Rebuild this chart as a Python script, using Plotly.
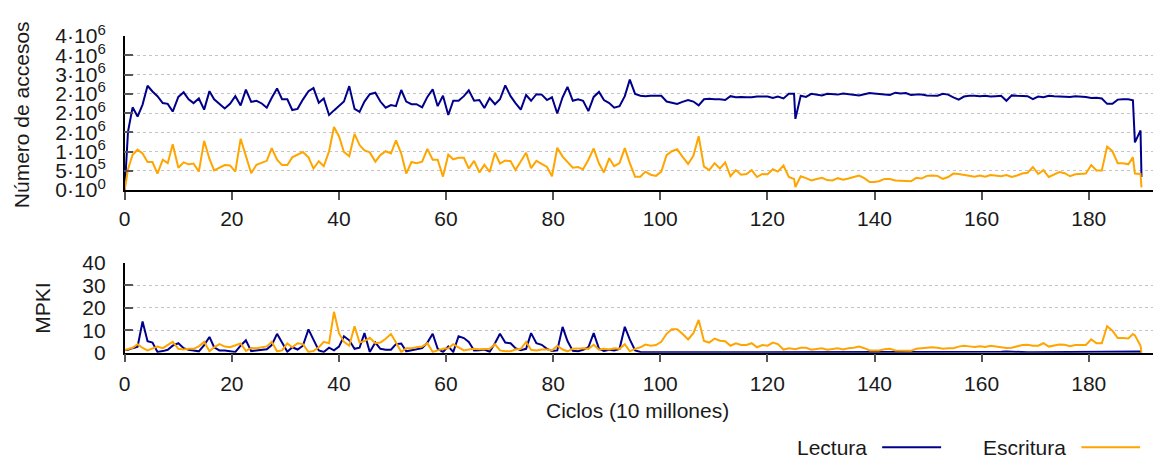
import plotly.graph_objects as go

# Sample positions (units of 10 million cycles)
ciclos = [
    0, 0.62, 1.48, 2.41, 3.34, 4.27, 5.19, 6.12, 7.11, 8.04,
    8.97, 10.02, 11.01, 11.94, 12.86, 13.85, 14.84, 15.83, 16.70, 17.69,
    18.68, 19.67, 20.66, 21.65, 22.63, 23.62, 24.61, 25.60, 26.53, 27.46,
    28.45, 29.38, 30.37, 31.29, 32.28, 33.27, 34.32, 35.25, 36.24, 37.17,
    38.16, 39.08, 40.01, 40.94, 41.93, 42.92, 43.85, 44.77, 45.76, 46.80,
    47.74, 48.73, 49.72, 50.65, 51.64, 52.57, 53.56, 54.48, 55.54, 56.52,
    57.51, 58.44, 59.43, 60.42, 61.35, 62.34, 63.33, 64.25, 65.24, 66.23,
    67.16, 68.15, 69.14, 70.07, 71.06, 72.05, 72.97, 73.96, 74.95, 75.88,
    76.87, 77.86, 78.85, 79.78, 80.77, 81.76, 82.68, 83.67, 84.66, 85.59,
    86.58, 87.57, 88.56, 89.48, 90.47, 91.40, 92.39, 93.38, 94.31, 95.30,
    96.29, 97.22, 98.21, 99.20, 100.19, 101.18, 102.16, 103.15, 104.14, 105.19,
    106.18, 107.17, 108.16, 109.15, 110.14, 111.13, 112.12, 113.11, 114.10, 115.09,
    116.08, 117.07, 118.06, 119.05, 120.04, 121.03, 121.95, 123.01, 124.00, 124.98,
    125.23, 126.22, 127.21, 128.20, 129.19, 130.18, 131.17, 132.16, 133.15, 134.14,
    135.13, 136.12, 137.11, 138.10, 139.09, 139.89, 140.82, 141.87, 142.86, 143.91,
    144.84, 145.83, 146.82, 147.81, 148.79, 149.78, 150.77, 151.76, 152.75, 153.74,
    154.73, 155.72, 156.71, 157.70, 158.69, 159.68, 160.67, 161.66, 162.65, 163.64,
    164.63, 165.62, 166.61, 167.59, 168.58, 169.57, 170.56, 171.55, 172.54, 173.53,
    174.52, 175.51, 176.50, 177.49, 178.48, 179.47, 180.46, 181.45, 182.44, 183.43,
    184.42, 185.41, 186.39, 187.38, 188.25, 188.62, 189.67, 189.85,
]

# Read accesses, in millions
lectura_accesos = [
    0, 1.52, 2.15, 1.91, 2.22, 2.71, 2.56, 2.44, 2.26, 2.24,
    2.04, 2.42, 2.54, 2.36, 2.26, 2.38, 2.09, 2.57, 2.36, 2.23,
    2.12, 2.24, 2.44, 2.20, 2.61, 2.29, 2.32, 2.25, 2.14, 2.40,
    2.64, 2.36, 2.36, 2.08, 2.11, 2.35, 2.57, 2.65, 2.27, 2.38,
    1.95, 2.07, 2.18, 2.30, 2.70, 2.11, 2.03, 2.30, 2.49, 2.53,
    2.30, 2.14, 2.21, 2.18, 2.60, 2.30, 2.23, 2.23, 2.15, 2.42,
    2.62, 2.18, 2.45, 1.95, 2.32, 2.32, 2.44, 2.59, 2.32, 2.34,
    2.13, 2.39, 2.23, 2.36, 2.72, 2.44, 2.26, 2.09, 2.47, 2.32,
    2.49, 2.48, 2.34, 2.41, 1.99, 2.41, 2.68, 2.32, 2.36, 2.32,
    2.05, 2.42, 2.55, 2.34, 2.26, 2.14, 2.18, 2.44, 2.87, 2.50,
    2.45, 2.44, 2.45, 2.45, 2.45, 2.30, 2.27, 2.24, 2.29, 2.34,
    2.30, 2.20, 2.36, 2.37, 2.36, 2.36, 2.34, 2.44, 2.41, 2.42,
    2.41, 2.41, 2.43, 2.43, 2.43, 2.39, 2.43, 2.38, 2.50, 2.50,
    1.85, 2.45, 2.42, 2.50, 2.48, 2.46, 2.50, 2.49, 2.48, 2.51,
    2.49, 2.48, 2.46, 2.49, 2.52, 2.51, 2.50, 2.49, 2.47, 2.53,
    2.51, 2.52, 2.47, 2.48, 2.48, 2.46, 2.45, 2.45, 2.50, 2.48,
    2.41, 2.35, 2.43, 2.45, 2.45, 2.44, 2.45, 2.43, 2.44, 2.45,
    2.32, 2.46, 2.45, 2.44, 2.44, 2.36, 2.43, 2.41, 2.45, 2.44,
    2.43, 2.42, 2.42, 2.44, 2.43, 2.42, 2.39, 2.40, 2.38, 2.24,
    2.24, 2.35, 2.36, 2.36, 2.33, 1.24, 1.55, 0.34,
]

# Write accesses, in millions
escritura_accesos = [
    0, 0.54, 0.92, 1.05, 0.95, 0.73, 0.73, 0.43, 0.79, 0.70,
    1.19, 0.58, 0.72, 0.67, 0.69, 0.48, 1.28, 0.81, 0.51, 0.57,
    0.65, 0.64, 0.48, 1.33, 0.87, 0.44, 0.66, 0.71, 0.76, 1.09,
    0.79, 0.65, 0.65, 0.85, 0.92, 0.99, 0.85, 0.56, 0.75, 0.62,
    1.01, 1.64, 1.40, 0.99, 0.88, 1.46, 1.17, 1.03, 0.98, 0.74,
    0.91, 1.01, 0.95, 1.29, 0.95, 0.43, 0.73, 0.70, 0.74, 1.07,
    0.79, 0.79, 0.35, 0.92, 0.80, 0.84, 0.84, 0.56, 0.76, 0.46,
    0.66, 0.47, 0.97, 0.69, 0.77, 0.75, 0.52, 0.73, 0.97, 0.57,
    0.76, 0.68, 0.60, 0.36, 1.10, 0.87, 0.74, 0.58, 0.60, 0.54,
    0.79, 1.08, 0.69, 0.46, 0.83, 0.62, 0.70, 1.09, 0.70, 0.35,
    0.35, 0.48, 0.40, 0.37, 0.48, 0.91, 1.01, 1.06, 0.87, 0.68,
    0.89, 1.40, 0.61, 0.52, 0.70, 0.56, 0.72, 0.36, 0.52, 0.40,
    0.42, 0.52, 0.34, 0.42, 0.41, 0.54, 0.48, 0.64, 0.34, 0.29,
    0.08, 0.36, 0.31, 0.25, 0.29, 0.32, 0.26, 0.25, 0.31, 0.27,
    0.30, 0.35, 0.38, 0.31, 0.21, 0.21, 0.23, 0.29, 0.29, 0.25,
    0.24, 0.23, 0.23, 0.32, 0.30, 0.37, 0.38, 0.37, 0.29, 0.34,
    0.43, 0.42, 0.40, 0.38, 0.35, 0.38, 0.35, 0.39, 0.38, 0.36,
    0.39, 0.34, 0.38, 0.43, 0.45, 0.60, 0.42, 0.52, 0.34, 0.40,
    0.47, 0.44, 0.36, 0.41, 0.42, 0.43, 0.65, 0.51, 0.51, 1.13,
    1.01, 0.70, 0.70, 0.67, 0.85, 0.43, 0.42, 0.07,
]

# Misses per kilo-instruction
lectura_mpki = [
    1.2, 1.3, 2.0, 2.7, 13.9, 5.1, 4.5, 0.3, 0.7, 1.3,
    3.1, 4.2, 2.0, 1.3, 1.0, 0.6, 3.4, 7.0, 2.4, 1.0,
    1.0, 0.6, 0.3, 3.1, 5.5, 0.7, 1.0, 1.0, 1.5, 3.4,
    8.4, 4.5, 0.4, 2.4, 1.4, 3.1, 10.4, 5.8, 1.0, 0.3,
    2.2, 1.0, 2.7, 7.3, 5.5, 1.7, 2.2, 8.7, 0.3, 4.5,
    1.7, 1.3, 1.3, 3.8, 4.1, 0.6, 1.0, 1.7, 2.0, 4.5,
    8.4, 1.7, 0.3, 2.8, 0.3, 7.3, 6.5, 4.8, 1.0, 1.1,
    1.4, 0.4, 4.2, 8.4, 4.5, 4.2, 2.0, 1.1, 1.7, 8.7,
    4.2, 3.5, 1.7, 0.8, 1.0, 11.5, 5.2, 0.8, 0.6, 1.3,
    2.4, 8.7, 1.7, 0.8, 1.3, 1.0, 1.7, 11.5, 5.9, 1.0,
    0.3, 0.15, 0.15, 0.15, 0.2, 0.2, 0.35, 0.4, 0.4, 0.45,
    0.4, 0.35, 0.2, 0.2, 0.2, 0.2, 0.2, 0.15, 0.2, 0.2,
    0.2, 0.2, 0.15, 0.2, 0.2, 0.2, 0.2, 0.2, 0.2, 0.2,
    0.2, 0.2, 0.2, 0.2, 0.2, 0.2, 0.2, 0.2, 0.2, 0.2,
    0.2, 0.2, 0.2, 0.2, 0.15, 0.15, 0.15, 0.2, 0.2, 0.2,
    0.2, 0.2, 0.2, 0.2, 0.2, 0.2, 0.2, 0.2, 0.2, 0.2,
    0.2, 0.2, 0.2, 0.2, 0.2, 0.2, 0.2, 0.2, 0.3, 0.4,
    0.5, 0.35, 0.2, 0.2, 0.2, 0.2, 0.2, 0.2, 0.2, 0.2,
    0.2, 0.2, 0.2, 0.2, 0.2, 0.25, 0.3, 0.3, 0.35, 0.4,
    0.45, 0.5, 0.5, 0.5, 0.5, 0.5, 0.5, 0.1,
]

escritura_mpki = [
    1.2, 1.5, 2.2, 3.8, 2.1, 1.0, 1.7, 2.7, 2.0, 3.5,
    4.8, 1.7, 1.4, 1.7, 1.7, 2.8, 4.8, 0.6, 2.4, 3.8,
    2.7, 2.4, 3.1, 4.1, 0.8, 2.1, 2.0, 2.4, 2.8, 4.8,
    0.6, 1.0, 4.1, 2.4, 4.2, 3.8, 0.3, 0.7, 2.4, 4.8,
    4.2, 18.2, 8.7, 4.8, 3.1, 11.8, 4.5, 5.2, 6.6, 4.2,
    4.5, 6.2, 8.3, 4.5, 0.3, 2.0, 2.0, 2.4, 2.7, 4.2,
    0.3, 1.0, 1.7, 2.0, 3.8, 2.4, 1.0, 1.4, 1.7, 1.5,
    1.7, 1.7, 3.8, 1.0, 0.6, 0.6, 1.4, 1.7, 4.8, 1.3,
    1.0, 1.4, 1.4, 1.0, 3.1, 1.4, 0.6, 1.7, 1.8, 2.0,
    1.7, 3.5, 1.3, 1.7, 1.4, 2.0, 1.7, 3.8, 0.6, 1.7,
    2.4, 3.6, 3.1, 3.4, 4.8, 8.4, 10.4, 10.4, 8.4, 5.9,
    8.7, 14.6, 5.2, 4.5, 6.3, 5.3, 5.1, 3.1, 4.2, 3.4,
    3.4, 4.2, 2.4, 3.4, 3.1, 4.5, 3.8, 1.4, 2.0, 1.7,
    1.5, 2.2, 2.2, 1.3, 1.7, 2.0, 1.3, 1.7, 2.0, 1.4,
    2.0, 2.2, 2.7, 2.0, 1.0, 1.0, 1.0, 1.5, 1.7, 1.0,
    1.0, 1.0, 0.8, 1.7, 2.0, 2.4, 2.4, 2.2, 1.7, 2.0,
    2.0, 2.7, 3.1, 2.8, 2.5, 2.8, 2.5, 3.1, 2.8, 2.4,
    2.1, 2.2, 2.7, 3.4, 3.5, 3.1, 3.1, 4.2, 2.7, 3.1,
    3.6, 3.5, 2.9, 3.4, 3.4, 3.4, 5.9, 4.2, 4.2, 11.8,
    9.8, 6.5, 6.5, 6.3, 8.3, 7.7, 3.1, 0.0,
]

acc_tickvals = [0, 5e5, 1e6, 1.5e6, 2e6, 2.5e6, 3e6, 3.5e6, 4e6]
acc_mantissa = ["0", "5", "1", "2", "2", "2", "3", "4", "4"]
acc_exponent = ["0", "5", "6", "6", "6", "6", "6", "6", "6"]
mpki_tickvals = [0, 10, 20, 30, 40]
x_tickvals = [0, 20, 40, 60, 80, 100, 120, 140, 160, 180]

acc_ticktext = [f"{m}·10<sup><span style='font-size:15px'>{e}</span></sup>"
                for m, e in zip(acc_mantissa, acc_exponent)]

AZUL = "#00008b"
NARANJA = "#ffa500"
FONT = "Liberation Sans, Arial, sans-serif"
TXT = "#1a1a1a"
FS = 21
W, H = 1155, 473

fig = go.Figure()
fig.add_trace(go.Scatter(x=ciclos, y=[v * 1e6 for v in lectura_accesos], mode="lines",
                         name="Lectura", line=dict(color=AZUL, width=2),
                         xaxis="x", yaxis="y", showlegend=False))
fig.add_trace(go.Scatter(x=ciclos, y=[v * 1e6 for v in escritura_accesos], mode="lines",
                         name="Escritura", line=dict(color=NARANJA, width=2),
                         xaxis="x", yaxis="y", showlegend=False))
fig.add_trace(go.Scatter(x=ciclos, y=lectura_mpki, mode="lines",
                         name="Lectura", line=dict(color=AZUL, width=2),
                         xaxis="x2", yaxis="y2", showlegend=False))
fig.add_trace(go.Scatter(x=ciclos, y=escritura_mpki, mode="lines",
                         name="Escritura", line=dict(color=NARANJA, width=2),
                         xaxis="x2", yaxis="y2", showlegend=False))

x_left, x_right = 119.3 / W, 1153 / W


def xaxis_cfg(standoff):
    return dict(domain=[x_left, x_right], range=[0, 192], tickvals=x_tickvals,
                showline=True, linecolor="black", linewidth=1.5,
                ticks="outside", ticklen=8, tickcolor="#555", tickwidth=1.5,
                showgrid=False, zeroline=False,
                tickfont=dict(family=FONT, size=FS, color=TXT),
                ticklabelstandoff=standoff)


def yaxis_cfg(dom, rng, tv, tt=None):
    d = dict(domain=dom, range=rng, tickvals=tv,
             showline=True, linecolor="black", linewidth=1.5,
             ticks="inside", ticklen=9, tickcolor="#555", tickwidth=1.5,
             showgrid=True, gridcolor="#c4c4c4", griddash="dot", gridwidth=1,
             zeroline=False,
             tickfont=dict(family=FONT, size=FS, color=TXT),
             ticklabelstandoff=13)
    if tt is not None:
        d["ticktext"] = tt
    return d


fig.update_layout(
    width=W, height=H,
    margin=dict(l=0, r=0, t=0, b=0),
    paper_bgcolor="white", plot_bgcolor="white",
    xaxis=dict(xaxis_cfg(1), anchor="y"),
    xaxis2=dict(xaxis_cfg(3), anchor="y2"),
    yaxis=yaxis_cfg([1 - 185.3 / H, 1 - 22.3 / H], [0, 4e6], acc_tickvals, acc_ticktext),
    yaxis2=dict(yaxis_cfg([1 - 357.3 / H, 1 - 262.3 / H], [0, 40], mpki_tickvals), anchor="x2"),
    font=dict(family=FONT, size=FS, color=TXT),
)

annotations = [
    dict(text="Número de accesos", x=15 / W, y=1 - 105 / H, textangle=-90),
    dict(text="MPKI", x=37 / W, y=1 - 310 / H, textangle=-90),
    dict(text="Ciclos (10 millones)", x=635 / W, y=1 - 418.7 / H),
]
for a in annotations:
    a.update(xref="paper", yref="paper", showarrow=False,
             xanchor="center", yanchor="middle",
             font=dict(family=FONT, size=FS, color=TXT))

# Legend: label followed by a line sample
legend_items = [("Lectura", AZUL, 868, 880.7, 940), ("Escritura", NARANJA, 1068, 1081, 1140)]
shapes = []
ly = 1 - 457.5 / H
for label, color, txt_right, l0, l1 in legend_items:
    annotations.append(dict(text=label, x=txt_right / W, y=ly, xref="paper", yref="paper",
                            showarrow=False, xanchor="right", yanchor="middle",
                            font=dict(family=FONT, size=FS, color=TXT)))
    shapes.append(dict(type="line", xref="paper", yref="paper",
                       x0=l0 / W, x1=l1 / W, y0=ly, y1=ly,
                       line=dict(color=color, width=2)))

fig.update_layout(annotations=annotations, shapes=shapes)
fig.write_html("out.html")
